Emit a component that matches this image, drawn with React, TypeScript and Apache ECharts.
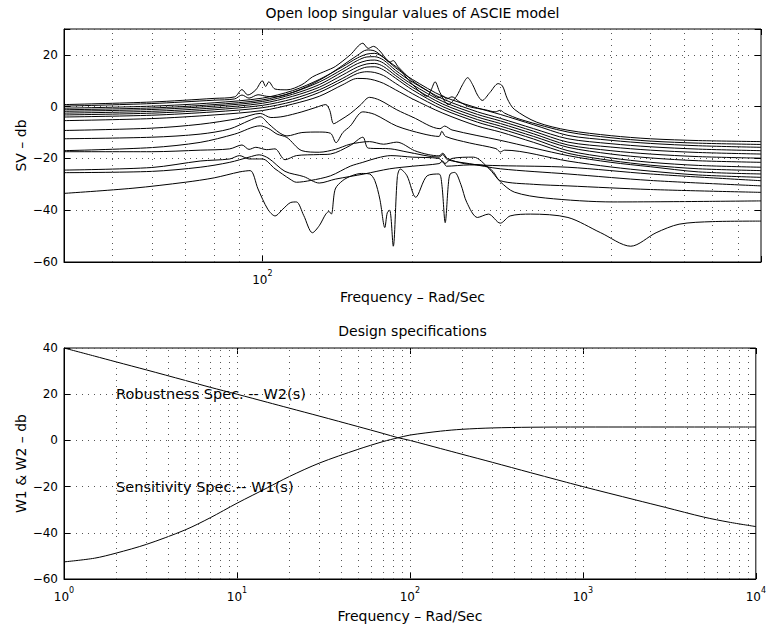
import React, { useEffect, useRef } from 'react';
import * as echarts from 'echarts';

const FONT = 'DejaVu Sans';

// ---------- Top plot: open loop singular values ----------
const topTitle = 'Open loop singular values of ASCIE model';
const topXName = 'Frequency – Rad/Sec';
const topYName = 'SV – db';
const topXRange = [40, 1000];
const topYRange = [-60, 30];
const topGridFreqs = [50, 60, 70, 80, 90, 100, 200, 300, 400, 500, 600, 700, 800, 900];
const topTickLabels = [100];

// shared frequency grid for the smooth cluster curves
const clusterFreq = [40, 60, 80, 100, 115, 130, 145, 155, 162, 168, 175, 185, 200, 230, 270, 300, 350, 410, 500, 600, 750, 1000];
const svC3 = [-0.6, 0.2, 1.5, 3.3, 6.2, 10.5, 15.5, 18.8, 20.3, 20.6, 19, 15, 10.5, 4, -0.5, -3, -7, -11.1, -13, -14.2, -15.1, -15.7];
const svC4 = [-1.2, -0.5, 0.8, 2.6, 5.5, 9.5, 14.5, 17.8, 19.2, 19.3, 18, 14, 9.5, 3, -2, -4.5, -8.5, -12.4, -14.3, -15.5, -16.4, -17];
const svC5 = [-1.8, -1.1, 0.2, 2, 4.8, 8.5, 13.5, 16.6, 17.8, 18, 16.8, 13, 8.5, 2, -3, -5.5, -9.5, -13.7, -15.6, -16.8, -17.7, -18.3];
const svC6 = [-2.5, -1.8, -0.5, 1.3, 4, 7.5, 12.3, 15.3, 16.5, 16.7, 15.5, 12, 7.5, 1, -4, -6.5, -10.5, -14.8, -17, -18.3, -19.3, -19.9];
const svC7 = [-3.2, -2.5, -1.2, 0.5, 3, 6.5, 11, 14, 15.3, 15.4, 14.2, 11, 6.5, 0, -5, -7.5, -11.5, -15.7, -18.3, -19.8, -20.9, -21.5];
const svC8 = [-4.0, -3.3, -2, -0.4, 2, 5.5, 10, 12.8, 13.5, 13.2, 12, 9, 5, -1, -6, -8.5, -12.5, -17, -19.8, -21.5, -22.7, -23.4];
const svC9 = [-5.4, -4.6, -3.2, -1.5, 1, 4, 8.5, 10.9, 10.8, 10.2, 9, 6.5, 3, -2.5, -7.5, -9.8, -13.8, -18, -20.8, -22.6, -24, -24.7];

// curves with resonances, as [frequency, dB]
const svC1: [number, number][] = [
  [40, 0.8], [60, 1.8], [80, 3.2], [88, 3.8], [91, 6.6], [93.5, 4.5], [97, 6.5], [100, 10], [101.5, 7.8], [103, 9.6],
  [106, 6.8], [112, 6.5], [120, 8.5], [126, 11.5], [131, 13], [134, 13.8], [140, 15.5], [150, 20], [159, 24.5], [163, 22.5],
  [167, 23.3], [172, 21.5], [178, 18], [188, 14.5], [196, 10.5], [205, 6.5], [214, 4], [218, 6.5], [222, 9.6], [227, 5.5],
  [236, 0.8], [245, 4], [252, 8.5], [258, 11.2], [264, 8.5], [270, 4.5], [276, 2.4], [286, 5.5], [297, 8.9], [303, 8],
  [310, 3], [320, -1], [355, -6], [410, -9.1], [500, -11.2], [600, -12.4], [750, -13.1], [1000, -13.5],
];
const svC2: [number, number][] = [
  [40, 0.2], [60, 1.2], [80, 2.5], [88, 3], [91, 4.5], [94, 3.3], [98, 4.6], [102, 4], [106, 3.8], [115, 5.5],
  [125, 8.5], [135, 12], [145, 16], [155, 19.8], [162, 21.9], [168, 21.5], [175, 19], [180, 17.2], [183, 17.8], [187, 15.5],
  [200, 10], [215, 6], [226, 3.5], [230, 4.2], [234, 3], [240, 3.8], [248, 2], [260, 0], [280, -1.2], [293, -2],
  [300, -1.4], [306, -2.5], [330, -5], [410, -9.8], [500, -12], [600, -13.3], [750, -14.1], [1000, -14.6],
];
const svM1: [number, number][] = [
  [40, -9.2], [60, -8.3], [75, -6.8], [90, -4.5], [99, -2.6], [104, -4.2], [110, -3.8], [120, -2], [128, -0.3], [134, 0.8],
  [136.5, -1.5], [139, -6.6], [143, -5.3], [150, -2.7], [157, 0.5], [164, 3.6], [172, 2.5], [186, -1.2], [200, -4], [227, -8.5],
  [232, -7.5], [240, -9], [300, -13], [410, -18.9], [500, -21.5], [600, -23.2], [750, -25.2], [1000, -26],
];
const svM2: [number, number][] = [
  [40, -12.4], [60, -11.8], [75, -10.6], [86, -8.6], [94, -5.4], [99, -3.9], [103, -6.7], [108, -10], [112, -11.3], [120, -10],
  [130, -9.8], [137, -10.3], [140.5, -13.9], [145, -10], [150, -7.5], [159, -2], [168, -3], [186, -7.5], [210, -10.5], [226, -11.5],
  [229, -9.5], [233, -11.5], [260, -14], [294, -16.2], [300, -17.5], [306, -16.8], [410, -21], [500, -23.3], [600, -24.9],
  [750, -26.4], [1000, -27.3],
];
const svG1: [number, number][] = [
  [40, -17], [60, -15.8], [75, -13.8], [88, -10.6], [99, -7.4], [103, -8.5], [107, -10.6], [112, -11.9], [120, -17], [130, -17.6],
  [140, -16.5], [150, -14.5], [164, -13.5], [175, -14.5], [186, -13.7], [202, -17], [215, -18.5], [226, -19], [230, -18], [235, -20],
  [254, -22], [280, -22.8], [290, -25], [300, -28.6], [350, -30], [410, -30.6], [600, -32], [1000, -33.1],
];
const svG2: [number, number][] = [
  [40, -17.4], [60, -17.4], [75, -16.8], [86, -16.3], [91, -14.8], [94, -16.5], [97, -15.7], [102, -16.6], [106, -16.3], [111, -20.5],
  [117, -18.9], [130, -18.5], [137, -18.3], [150, -15], [159, -11.8], [163, -16], [181, -16.3], [195, -17.5], [226, -19.5], [230, -18.5],
  [235, -20.5], [260, -22], [300, -24], [410, -26], [600, -28.5], [1000, -30.6],
];
const svG3: [number, number][] = [
  [40, -24.5], [60, -23.5], [75, -21], [86, -20.2], [90, -18.9], [94, -20.2], [100, -20.2], [106, -24], [113.6, -28], [117, -29.2],
  [125, -28.5], [137, -26.7], [150, -23], [159, -21.5], [170, -19.8], [181, -18.9], [200, -19.5], [226, -20], [232, -22], [240, -20],
  [265, -19.5], [285, -24], [300, -29], [320, -33], [370, -35.3], [505, -36.8], [1000, -36.4],
];
const svG4: [number, number][] = [
  [40, -25.5], [60, -25], [75, -23.4], [86, -21.5], [94, -19.5], [98.5, -18.6], [103, -20], [111, -25], [121, -27], [130, -29.5],
  [140, -28], [160, -26], [180, -24], [200, -23], [226, -22], [230, -21], [234, -23], [260, -22.5], [300, -22.8], [410, -23.4],
  [600, -26], [1000, -28.6],
];
const svL1: [number, number][] = [
  [40, -33.5], [55, -31.5], [70, -29.2], [80, -27.5], [90, -25.2], [94.5, -24.7], [98, -31.8], [102.5, -39.6], [106, -42.2], [110, -39.5],
  [114, -37], [117, -36.8], [121, -42], [126, -48.7], [130, -46], [134, -41.5], [136, -40.5], [137.5, -41.5], [140, -31.8], [145, -28.5],
  [151, -26.7], [158, -25.8], [164, -26], [168, -28.5], [172, -35.7], [176, -46.7], [178, -41], [180, -40], [183, -53.9], [186.5, -27],
  [189, -24.1], [195, -26.7], [203, -35], [214, -26.7], [226, -26], [229, -30], [232.6, -44.8], [236, -30], [238, -26], [243, -25.4],
  [250, -30], [257, -37], [270, -42.8], [284, -41.5], [300, -45], [314, -42.2], [345, -41.5], [410, -42.8], [477, -48.7], [548, -53.9],
  [616, -48.7], [685, -45.4], [800, -44.4], [1000, -44.2],
];

// ---------- Bottom plot: design specifications ----------
const botTitle = 'Design specifications';
const botXName = 'Frequency – Rad/Sec';
const botYName = 'W1 & W2 – db';
const botXRange = [1, 10000];
const botYRange = [-60, 40];
const botGridFreqs = [
  2, 3, 4, 5, 6, 7, 8, 9, 10, 20, 30, 40, 50, 60, 70, 80, 90, 100,
  200, 300, 400, 500, 600, 700, 800, 900, 1000, 2000, 3000, 4000, 5000, 6000, 7000, 8000, 9000,
];
const botTickLabels = [1, 10, 100, 1000, 10000];
const wFreq = [1, 1.5, 2, 3, 5, 7, 10, 15, 20, 30, 50, 70, 85, 100, 150, 200, 300, 500, 1000, 2000, 3000, 5000, 7000, 10000];
const w1Db = [-52.6, -51, -48.8, -45, -38.8, -33.5, -27.2, -20.5, -15.7, -9.8, -3.9, -0.5, 1.1, 2.3, 4, 4.8, 5.4, 5.7, 5.8, 5.8, 5.8, 5.8, 5.8, 5.8];
const w2Db = [40, 36.5, 34, 30.5, 26, 23, 20, 16.5, 14, 10.5, 6, 3, 1.2, 0, -3.5, -6, -9.5, -14, -20, -25.7, -29, -33.2, -35.4, -37.3];
const annotations = [
  { x: 2, y: 20, text: 'Robustness Spec. -- W2(s)' },
  { x: 2, y: -20, text: 'Sensitivity Spec.-- W1(s)' },
];

const toPairs = (xs: number[], ys: number[]) => xs.map((x, i) => [x, ys[i]]);

const dotStyle = { type: [1, 5] as number[], color: '#555', width: 1 };

function logLabel(allowed: number[]) {
  return (v: number) => {
    const hit = allowed.find((a) => Math.abs(Math.log10(a) - Math.log10(v)) < 1e-6);
    if (hit === undefined) return '';
    return '{b|10}{s|' + Math.round(Math.log10(hit)) + '}';
  };
}
const supRich = {
  b: { fontSize: 12, fontFamily: FONT, color: '#000', padding: [5, 0, 0, 0], verticalAlign: 'bottom' },
  s: { fontSize: 8, fontFamily: FONT, color: '#000', verticalAlign: 'top' },
};
const yLabel = (max: number) => (v: number) => {
  if (v === max && max % 20 !== 0) return '';
  return v < 0 ? '\u2212' + Math.abs(v) : String(v);
};

function makeXAxes(gridIndex: number, range: number[], labels: number[], name: string, nameGap: number) {
  return [
    {
      gridIndex, type: 'log', logBase: 10, min: range[0], max: range[1], position: 'bottom',
      name, nameLocation: 'middle', nameGap,
      nameTextStyle: { fontSize: 14, fontFamily: FONT, color: '#000' },
      axisLine: { show: true, onZero: false, lineStyle: { color: '#000', width: 1 } },
      axisTick: { show: true, inside: true, length: 6, lineStyle: { color: '#000' } },
      axisLabel: { formatter: logLabel(labels), rich: supRich, margin: 7, color: '#000' },
      splitLine: { show: false },
    },
    {
      gridIndex, type: 'log', logBase: 10, min: range[0], max: range[1], position: 'top',
      axisLine: { show: false, onZero: false },
      axisTick: { show: true, inside: true, length: 6, lineStyle: { color: '#000' } },
      axisLabel: { show: false },
      splitLine: { show: false },
    },
  ];
}
function makeYAxes(gridIndex: number, range: number[], name: string) {
  return [
    {
      gridIndex, type: 'value', min: range[0], max: range[1], interval: 20, position: 'left',
      name, nameLocation: 'middle', nameGap: 36, nameRotate: 90, nameMoveOverlap: false,
      nameTextStyle: { fontSize: 14, fontFamily: FONT, color: '#000' },
      axisLine: { show: true, onZero: false, lineStyle: { color: '#000', width: 1 } },
      axisTick: { show: true, inside: true, length: 6, lineStyle: { color: '#000' } },
      axisLabel: { formatter: yLabel(range[1]), fontSize: 12, fontFamily: FONT, color: '#000', margin: 6 },
      splitLine: { show: true, lineStyle: dotStyle },
    },
    {
      gridIndex, type: 'value', min: range[0], max: range[1], interval: 20, position: 'right',
      axisLine: { show: false, onZero: false },
      axisTick: { show: true, inside: true, length: 6, lineStyle: { color: '#000' } },
      axisLabel: { show: false },
      splitLine: { show: false },
    },
  ];
}

const lineSeries = (data: number[][], xi: number, yi: number, extra: object = {}) => ({
  type: 'line', xAxisIndex: xi, yAxisIndex: yi, data, showSymbol: false, symbol: 'none',
  smooth: 0.3, silent: true,
  lineStyle: { color: '#000', width: 1 }, ...extra,
});

const gridMarkLine = (freqs: number[]) => ({
  markLine: {
    silent: true, symbol: ['none', 'none'], label: { show: false },
    lineStyle: dotStyle, animation: false,
    data: freqs.map((f) => ({ xAxis: f })),
  },
});

export default function App() {
  const ref = useRef<HTMLDivElement>(null);
  useEffect(() => {
    if (!ref.current) return;
    const chart = echarts.init(ref.current, undefined, { renderer: 'svg' });
    const topCurves: number[][][] = [
      svC1, svC2,
      toPairs(clusterFreq, svC3), toPairs(clusterFreq, svC4), toPairs(clusterFreq, svC5),
      toPairs(clusterFreq, svC6), toPairs(clusterFreq, svC7), toPairs(clusterFreq, svC8), toPairs(clusterFreq, svC9),
      svM1, svM2, svG1, svG2, svG3, svG4, svL1,
    ];
    const series: any[] = topCurves.map((c, i) => lineSeries(c, 0, 0, i === 0 ? gridMarkLine(topGridFreqs) : {}));
    series.push(lineSeries(toPairs(wFreq, w2Db), 2, 2, gridMarkLine(botGridFreqs)));
    series.push(lineSeries(toPairs(wFreq, w1Db), 2, 2));
    chart.setOption({
      animation: false,
      backgroundColor: '#fff',
      textStyle: { fontFamily: FONT },
      title: [
        { text: topTitle, left: 412.5, top: 6, textAlign: 'center', padding: 0, textStyle: { fontSize: 14, fontWeight: 'normal', fontFamily: FONT, color: '#000' } },
        { text: botTitle, left: 412.5, top: 324, textAlign: 'center', padding: 0, textStyle: { fontSize: 14, fontWeight: 'normal', fontFamily: FONT, color: '#000' } },
      ],
      grid: [
        { left: 64, top: 29, width: 697, height: 233, show: true, borderColor: '#000', borderWidth: 1, backgroundColor: 'transparent' },
        { left: 64, top: 348, width: 697, height: 231, show: true, borderColor: '#000', borderWidth: 1, backgroundColor: 'transparent' },
      ],
      xAxis: [...makeXAxes(0, topXRange, topTickLabels, topXName, 28), ...makeXAxes(1, botXRange, botTickLabels, botXName, 30)],
      yAxis: [...makeYAxes(0, topYRange, topYName), ...makeYAxes(1, botYRange, botYName)],
      series,
    });
    // annotations placed through the bottom grid's own scales
    const graphic = annotations.map((a) => {
      const p = chart.convertToPixel({ xAxisIndex: 2, yAxisIndex: 2 }, [a.x, a.y]) as number[];
      return {
        type: 'text', x: p[0], y: p[1], silent: true,
        style: { text: a.text, fontSize: 14.5, fontFamily: FONT, fill: '#000', align: 'left', verticalAlign: 'middle' },
      };
    });
    chart.setOption({ graphic });
    return () => chart.dispose();
  }, []);
  return <div ref={ref} style={{ position: 'fixed', left: 0, top: 0, width: 769, height: 629 }} />;
}
